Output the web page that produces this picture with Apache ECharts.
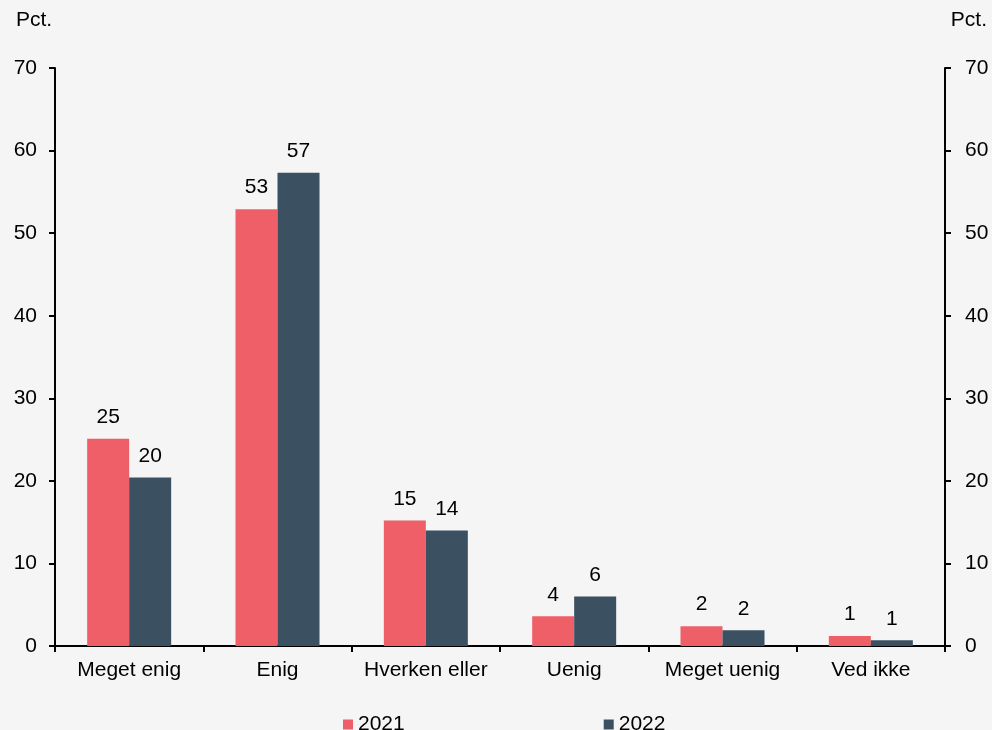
<!DOCTYPE html>
<html>
<head>
<meta charset="utf-8">
<script src="https://cdn.jsdelivr.net/npm/echarts@6/dist/echarts.min.js"></script>
<style>
  html, body { margin: 0; padding: 0; background: #f5f5f5; }
  #chart { width: 992px; height: 730px; }
</style>
</head>
<body>
<div id="chart"></div>
<script type="text/javascript">
    var categories = ['Meget enig', 'Enig', 'Hverken eller', 'Uenig', 'Meget uenig', 'Ved ikke'];
    var values2021 = [25.1, 52.9, 15.2, 3.6, 2.4, 1.2];
    var values2022 = [20.4, 57.3, 14.0, 6.0, 1.9, 0.7];
    var seriesNames = ['2021', '2022'];
    var font = 'Liberation Sans, Arial, sans-serif';

    var myChart = echarts.init(document.getElementById('chart'));

    var valueAxis = function (pos) {
        return {
            type: 'value',
            position: pos,
            min: 0,
            max: 70,
            interval: 10,
            axisLine: { show: true, lineStyle: { color: '#000', width: 2 } },
            axisTick: { show: true, length: 6, lineStyle: { color: '#000', width: 2 } },
            axisLabel: { color: '#000', fontSize: 21, fontFamily: font, margin: pos == 'left' ? 18 : 20 },
            splitLine: { show: false }
        };
    };

    var barLabel = {
        show: true,
        position: 'top',
        distance: 11,
        color: '#000',
        fontSize: 21,
        fontFamily: font,
        formatter: function (p) { return Math.round(p.value); }
    };

    var option = {
        backgroundColor: '#f5f5f5',
        animation: false,
        textStyle: { fontFamily: font },
        grid: { left: 55, right: 47, top: 68, bottom: 84 },
        graphic: [
            { type: 'text', left: 16, top: 10, style: { text: 'Pct.', fontSize: 21, fontFamily: font, fill: '#000' } },
            { type: 'text', right: 5, top: 10, style: { text: 'Pct.', fontSize: 21, fontFamily: font, fill: '#000' } }
        ],
        legend: {
            data: seriesNames,
            left: 338,
            top: 709,
            itemWidth: 10,
            itemHeight: 10,
            itemGap: 199,
            icon: 'rect',
            textStyle: { color: '#000', fontSize: 21, fontFamily: font }
        },
        xAxis: {
            type: 'category',
            data: categories,
            axisLine: { lineStyle: { color: '#000', width: 2 } },
            axisTick: { show: true, interval: 0, length: 6, lineStyle: { color: '#000', width: 2 } },
            axisLabel: { interval: 0, color: '#000', fontSize: 21, fontFamily: font, margin: 14 }
        },
        yAxis: [valueAxis('left'), valueAxis('right')],
        series: [
            {
                name: seriesNames[0],
                type: 'bar',
                data: values2021,
                barWidth: 42,
                barGap: '0%',
                itemStyle: { color: '#ef5f68' },
                label: barLabel
            },
            {
                name: seriesNames[1],
                type: 'bar',
                data: values2022,
                barWidth: 42,
                barGap: '0%',
                itemStyle: { color: '#3b5162' },
                label: barLabel
            }
        ]
    };

    myChart.setOption(option);
</script>
</body>
</html>
